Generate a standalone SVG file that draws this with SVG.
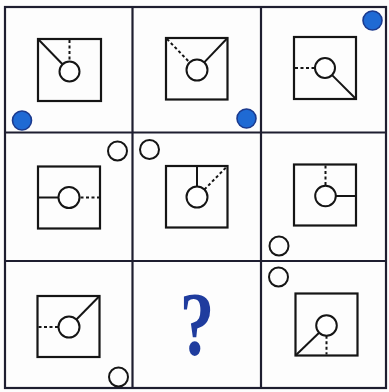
<svg xmlns="http://www.w3.org/2000/svg" width="389" height="392" viewBox="0 0 389 392">
<style>
.grid{fill:none;stroke:#1e1e30;stroke-width:2.2}
.sq{fill:none;stroke:#151515;stroke-width:2.2}
.c{fill:#fff;stroke:#151515;stroke-width:2}
.s{stroke:#151515;stroke-width:2;fill:none}
.d{stroke:#151515;stroke-width:2;fill:none;stroke-dasharray:3 2.5}
.blue{fill:#1f6ad4;stroke:#1b3a8e;stroke-width:1.6}
.hollow{fill:none;stroke:#151515;stroke-width:2}
.q{font-family:"Liberation Serif",serif;font-weight:bold;fill:#1f3c9e}
</style>
<rect width="389" height="392" fill="#fdfdfd"/>
<g id="grid">
<rect class="grid" x="5" y="7" width="381" height="381"/>
<line class="grid" x1="132.5" y1="7" x2="132.5" y2="388"/>
<line class="grid" x1="261" y1="7" x2="261" y2="388"/>
<line class="grid" x1="5" y1="132.5" x2="386" y2="132.5"/>
<line class="grid" x1="5" y1="261" x2="386" y2="261"/>
</g>
<g id="connectors"></g>
<g id="cell-1-1">
<rect class="sq" x="38" y="39" width="63" height="62"/>
<line class="s" x1="38" y1="39" x2="62.5" y2="64.3"/>
<line class="d" x1="69.5" y1="40" x2="69.5" y2="61.5"/>
<circle class="c" cx="69.5" cy="71.5" r="10"/>
<circle class="blue" cx="22" cy="120.5" r="9.5"/>
</g>
<g id="cell-1-2">
<rect class="sq" x="166" y="38" width="61.5" height="61.5"/>
<line class="s" x1="227.5" y1="38" x2="204.2" y2="62.4"/>
<line class="d" x1="167" y1="39" x2="189.7" y2="62.5"/>
<circle class="c" cx="197" cy="70" r="10.5"/>
<circle class="blue" cx="246.5" cy="118.5" r="9.5"/>
</g>
<g id="cell-1-3">
<rect class="sq" x="294" y="37" width="62" height="62"/>
<line class="d" x1="295" y1="68" x2="315" y2="68"/>
<line class="s" x1="332.1" y1="75.1" x2="356" y2="99"/>
<circle class="c" cx="325" cy="68" r="10"/>
<circle class="blue" cx="372.5" cy="20.5" r="9.5"/>
</g>
<g id="cell-2-1">
<rect class="sq" x="38" y="166.5" width="62" height="62"/>
<line class="s" x1="38" y1="197.5" x2="58.5" y2="197.5"/>
<line class="d" x1="80.5" y1="197.5" x2="100" y2="197.5"/>
<circle class="c" cx="69" cy="197.5" r="10.5"/>
<circle class="hollow" cx="117.5" cy="151" r="9.5"/>
</g>
<g id="cell-2-2">
<rect class="sq" x="166" y="166" width="61.5" height="61.5"/>
<line class="s" x1="197" y1="166" x2="197" y2="186.5"/>
<line class="d" x1="204.4" y1="189.5" x2="227" y2="166.5"/>
<circle class="c" cx="197" cy="197" r="10.5"/>
<circle class="hollow" cx="149.5" cy="149.5" r="9.5"/>
</g>
<g id="cell-2-3">
<rect class="sq" x="294" y="164.5" width="62" height="61"/>
<line class="s" x1="335.8" y1="196" x2="356" y2="196"/>
<line class="d" x1="325.5" y1="165.5" x2="325.5" y2="185.7"/>
<circle class="c" cx="325.5" cy="196" r="10.3"/>
<circle class="hollow" cx="279" cy="246" r="9.5"/>
</g>
<g id="cell-3-1">
<rect class="sq" x="37.5" y="296" width="62" height="61"/>
<line class="d" x1="38.5" y1="327" x2="58.5" y2="327"/>
<line class="s" x1="76.4" y1="319.5" x2="99.5" y2="296"/>
<circle class="c" cx="69" cy="327" r="10.5"/>
<circle class="hollow" cx="118.5" cy="377" r="9.5"/>
</g>
<g id="cell-3-2">
<text class="q" x="0" y="0" font-size="92" text-anchor="middle" transform="translate(197 355) scale(0.75 1)">?</text>
</g>
<g id="cell-3-3">
<rect class="sq" x="295.5" y="293.5" width="62" height="62"/>
<line class="s" x1="295.5" y1="355.5" x2="319.1" y2="332.7"/>
<line class="d" x1="326.5" y1="335.8" x2="326.5" y2="354.5"/>
<circle class="c" cx="326.5" cy="325.5" r="10.3"/>
<circle class="hollow" cx="278.5" cy="277" r="9.5"/>
</g>
</svg>
